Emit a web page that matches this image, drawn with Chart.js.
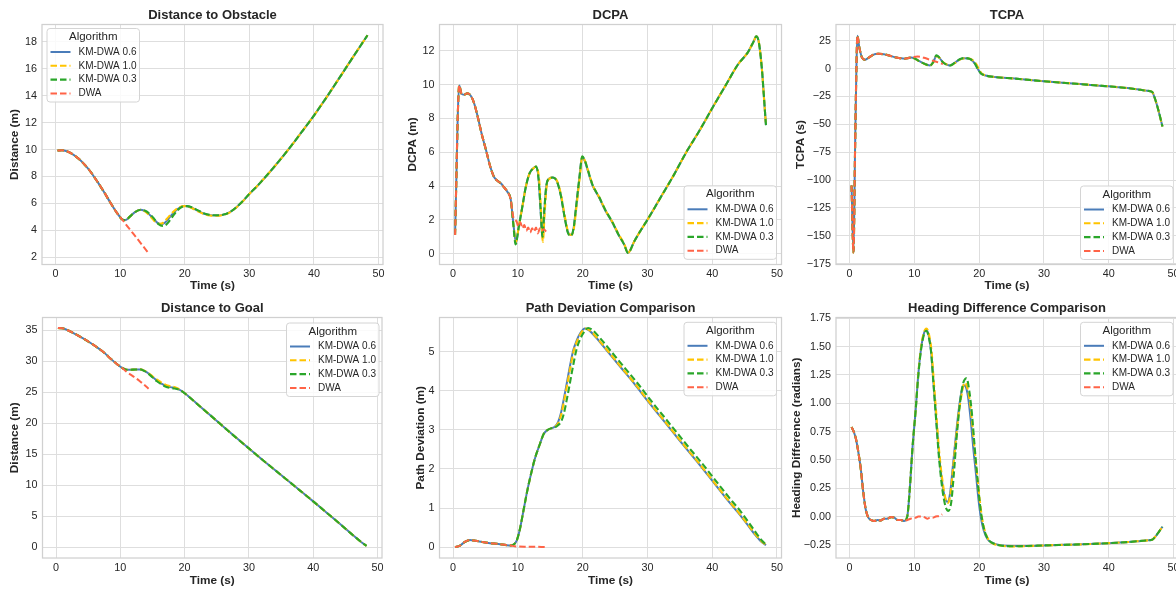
<!DOCTYPE html>
<html>
<head>
<meta charset="utf-8">
<script src="https://cdn.jsdelivr.net/npm/chart.js@4.4.1/dist/chart.umd.min.js"></script>
<style>
html,body{margin:0;padding:0;background:#ffffff;overflow:hidden;width:1176px;height:590px;position:relative;}
canvas{position:absolute;}
</style>
</head>
<body>
<canvas id="c1"></canvas><canvas id="c2"></canvas><canvas id="c3"></canvas>
<canvas id="c4"></canvas><canvas id="c5"></canvas><canvas id="c6"></canvas>
<script>
// ---------------- DATA ----------------
const seriesNames = ['KM-DWA 0.6', 'KM-DWA 1.0', 'KM-DWA 0.3', 'DWA'];
const timeTicks = [0, 10, 20, 30, 40, 50];

// Distance to Obstacle  [time s, distance m]
const obstacleShared = [[0.3,9.93],[1.0,9.95],[1.6,9.9],[2.5,9.7],[3.5,9.35],[4.5,8.88],[5.5,8.3],[6.5,7.6],[7.5,6.85],[8.5,6.05],[9.5,5.3],[10.3,4.82]];
const obstacleRise = [[31,7.18],[32,7.7],[33,8.24],[34,8.8],[35,9.38],[36,9.98],[37,10.6],[38,11.24],[39,11.88],[40,12.53],[42,13.92],[44,15.37],[46,16.84],[48.3,18.5]];
const obstacleKM06 = [[10.8,4.76],[11.5,5.02],[12.3,5.36],[13.2,5.53],[14.0,5.38],[15.0,4.95],[15.8,4.55],[16.3,4.46],[16.9,4.55],[17.7,4.98],[18.5,5.42],[19.3,5.7],[20.0,5.8],[20.9,5.72],[21.9,5.48],[22.9,5.25],[23.9,5.13],[24.9,5.1],[25.9,5.15],[27.0,5.35],[28.0,5.72],[29.0,6.17],[30.0,6.7]];
const obstacleKM10 = [[10.8,4.76],[11.5,5.02],[12.3,5.36],[13.2,5.53],[14.0,5.36],[14.9,4.92],[15.6,4.56],[16.1,4.48],[16.7,4.58],[17.5,5.0],[18.4,5.45],[19.2,5.72],[20.0,5.8],[20.9,5.7],[21.9,5.45],[22.9,5.22],[23.9,5.1],[24.9,5.08],[25.9,5.14],[27.0,5.34],[28.0,5.7],[29.0,6.16],[30.0,6.7]];
const obstacleKM03 = [[10.8,4.76],[11.5,5.02],[12.3,5.36],[13.2,5.53],[14.1,5.4],[15.1,4.95],[15.9,4.48],[16.6,4.32],[17.2,4.45],[18.0,4.95],[18.8,5.45],[19.6,5.75],[20.3,5.8],[21.1,5.72],[22.0,5.5],[23.0,5.26],[24.0,5.14],[25.0,5.12],[26.0,5.17],[27.0,5.36],[28.0,5.72],[29.0,6.18],[30.0,6.71]];
const obstacleDWA = [[11.0,4.37],[12.0,3.77],[13.0,3.16],[14.4,2.3]];
const obstacleTicks = [2, 4, 6, 8, 10, 12, 14, 16, 18];

// DCPA  [time s, DCPA m]
const dcpaShared = [[0.3,1.1],[0.95,9.95],[1.3,9.45],[1.7,9.4],[2.2,9.48],[2.7,9.35],[3.2,8.95],[3.8,8.1],[4.4,7.1],[5.1,6.1],[5.7,5.2],[6.3,4.55],[6.8,4.32],[7.4,4.15],[7.9,3.9],[8.4,3.65],[8.9,3.2]];
const dcpaRise = [[28.0,0.75],[29.0,1.4],[30.0,2.0],[32.0,3.3],[34.0,4.6],[36.0,6.0],[38.0,7.25],[40.0,8.6],[42.0,9.9],[44.0,11.2],[45.5,11.9],[46.4,12.55],[46.8,12.85],[47.2,12.5],[47.7,10.8],[48.0,9.2],[48.3,7.6]];
const dcpaKM06 = [[9.3,1.8],[9.7,0.65],[10.1,1.5],[10.7,2.8],[11.2,3.9],[11.8,4.75],[12.4,5.05],[12.8,5.15],[13.2,4.4],[13.5,2.6],[13.8,0.9],[14.1,2.6],[14.4,4.0],[14.9,4.45],[15.4,4.5],[16.0,4.3],[16.6,3.5],[17.2,2.2],[17.7,1.3],[18.2,1.1],[18.6,1.5],[19.0,2.8],[19.5,4.5],[19.9,5.7],[20.3,5.5],[20.8,4.9],[21.5,4.05],[22.5,3.35],[23.5,2.55],[24.5,1.9],[25.5,1.15],[26.4,0.55],[27.0,0.05]];
const dcpaKM10 = [[9.3,1.8],[9.7,0.7],[10.1,1.5],[10.7,2.8],[11.2,3.9],[11.8,4.75],[12.4,5.05],[12.85,5.15],[13.3,4.3],[13.6,2.4],[13.85,0.7],[14.15,2.5],[14.45,4.0],[14.95,4.45],[15.45,4.5],[16.05,4.3],[16.65,3.5],[17.25,2.2],[17.75,1.3],[18.25,1.1],[18.65,1.5],[19.05,2.8],[19.55,4.5],[19.95,5.72],[20.35,5.5],[20.85,4.9],[21.55,4.05],[22.55,3.35],[23.55,2.55],[24.55,1.9],[25.55,1.15],[26.45,0.55],[27.0,0.05]];
const dcpaKM03 = [[9.3,1.7],[9.65,0.55],[10.1,1.5],[10.7,2.8],[11.2,3.9],[11.8,4.75],[12.4,5.05],[12.8,5.15],[13.2,4.4],[13.5,2.7],[13.8,1.0],[14.1,2.7],[14.4,4.05],[14.9,4.45],[15.4,4.5],[16.0,4.3],[16.6,3.5],[17.2,2.2],[17.7,1.25],[18.2,1.05],[18.6,1.5],[19.0,2.8],[19.5,4.5],[19.95,5.75],[20.35,5.5],[20.85,4.9],[21.55,4.05],[22.55,3.35],[23.55,2.55],[24.55,1.9],[25.5,1.15],[26.4,0.55],[27.0,0.05]];
const dcpaDWA = [[9.1,2.6],[9.3,2.15],[9.5,2.05],[9.8,1.9],[10.1,1.6],[10.4,1.85],[10.7,1.5],[11.0,1.7],[11.3,1.35],[11.6,1.55],[11.9,1.25],[12.2,1.5],[12.5,1.3],[12.8,1.55],[13.1,1.2],[13.4,1.5],[13.7,1.35],[14.0,1.45],[14.35,1.3]];
const dcpaTicks = [0, 2, 4, 6, 8, 10, 12];

// TCPA  [time s, TCPA s]
const tcpaShared = [[0.3,-105],[0.6,-165],[0.85,-70],[1.05,0],[1.2,29.5],[1.5,19],[1.9,10],[2.35,7.8],[2.9,9.5],[3.6,12.2],[4.4,13.2],[5.3,12.8],[6.2,11.5],[7.0,10.2],[7.8,9.3],[8.5,8.8],[9.0,9.3],[9.5,10.0]];
const tcpaTail = [[22.4,-7.6],[25.5,-9.0],[30.0,-11.4],[35.0,-13.7],[40.0,-16.0],[44.0,-18.3],[46.0,-20.0],[46.7,-21.0],[47.2,-28.0],[47.7,-38.0],[48.3,-52.0]];
const tcpaKM06 = [[10.0,9.2],[10.6,7.2],[11.5,4.5],[12.4,2.8],[12.9,5.5],[13.4,11.5],[13.8,10.0],[14.4,5.7],[15.0,3.5],[15.5,2.8],[16.2,5.0],[17.0,8.2],[17.8,9.3],[18.5,8.6],[19.0,6.8],[19.4,3.8],[19.8,-0.5],[20.3,-4.6],[21.0,-6.3]];
const tcpaKM10 = [[10.0,9.2],[10.6,7.0],[11.5,4.3],[12.4,2.6],[12.9,5.3],[13.4,11.2],[13.8,10.0],[14.4,5.8],[15.0,3.6],[15.6,2.9],[16.3,5.0],[17.1,8.2],[17.9,9.3],[18.6,8.7],[19.15,6.9],[19.55,3.9],[19.95,-0.4],[20.4,-4.5],[21.0,-6.3]];
const tcpaKM03 = [[10.0,9.1],[10.6,7.1],[11.5,4.4],[12.4,2.7],[12.9,5.6],[13.4,11.8],[13.8,10.2],[14.4,5.6],[15.0,3.4],[15.5,2.7],[16.2,5.0],[17.0,8.3],[17.8,9.4],[18.5,8.7],[19.0,6.9],[19.4,3.9],[19.8,-0.4],[20.3,-4.5],[21.0,-6.3]];
const tcpaDWA = [[10.5,10.8],[11.5,9.6],[12.5,7.7],[13.5,5.8],[14.4,4.0]];
const tcpaTicks = [-175, -150, -125, -100, -75, -50, -25, 0, 25];

// Distance to Goal  [time s, distance m]
const goalShared = [[0.3,35.4],[1.0,35.35],[1.7,35.1],[2.5,34.7],[3.5,34.15],[4.5,33.55],[5.5,32.9],[6.5,32.2],[7.5,31.4],[8.5,30.45],[9.5,29.55],[10.3,28.95]];
const goalTail = [[22.0,23.1],[24.0,21.3],[26.0,19.5],[28.0,17.7],[30.0,15.95],[32.0,14.2],[34.0,12.5],[36.0,10.8],[38.0,9.1],[40.0,7.4],[42.0,5.65],[44.0,3.9],[46.0,2.1],[47.5,0.8],[48.3,0.2]];
const goalKM06 = [[11.0,28.66],[12.0,28.68],[13.1,28.72],[13.8,28.45],[14.4,28.05],[15.0,27.5],[15.7,26.9],[16.4,26.4],[17.0,26.1],[17.8,25.85],[18.5,25.72],[19.1,25.5],[19.6,25.2],[20.5,24.45]];
const goalKM10 = [[11.0,28.66],[12.0,28.68],[13.1,28.72],[13.8,28.47],[14.4,28.1],[15.0,27.6],[15.9,26.95],[16.5,26.5],[17.1,26.2],[17.8,26.0],[18.5,25.85],[19.1,25.55],[19.6,25.2],[20.5,24.45]];
const goalKM03 = [[11.0,28.66],[12.0,28.68],[13.1,28.72],[13.8,28.43],[14.4,28.0],[15.0,27.45],[15.7,26.8],[16.4,26.3],[17.0,25.95],[17.8,25.7],[18.5,25.62],[19.1,25.45],[19.6,25.18],[20.5,24.45]];
const goalDWA = [[11.0,28.3],[12.0,27.6],[13.0,26.85],[14.4,25.6]];
const goalTicks = [0, 5, 10, 15, 20, 25, 30, 35];

// Path Deviation  [time s, deviation m]
const pathShared = [[0.3,0.0],[1.0,0.03],[1.8,0.13],[2.6,0.18],[3.5,0.16],[4.5,0.13],[5.7,0.1],[7.0,0.08],[8.2,0.05],[8.9,0.04],[9.4,0.07],[9.85,0.18],[10.3,0.45],[10.86,0.93],[11.4,1.4],[11.9,1.78],[12.6,2.25],[13.4,2.64],[14.0,2.9],[14.5,2.99],[15.1,3.04]];
const pathKM06 = [[15.7,3.08],[16.2,3.2],[16.6,3.4],[17.1,3.8],[17.5,4.15],[18.0,4.6],[18.55,5.04],[19.1,5.3],[19.6,5.47],[20.35,5.6],[21.0,5.55],[22.0,5.38],[24.0,4.98],[26.0,4.58],[28.0,4.18],[30.0,3.75],[32.0,3.34],[34.0,2.93],[36.0,2.52],[38.0,2.12],[40.0,1.7],[42.0,1.28],[44.0,0.88],[45.5,0.56],[46.5,0.34],[47.5,0.15],[48.3,0.05]];
const pathKM10 = [[15.7,3.07],[16.3,3.2],[16.7,3.4],[17.2,3.8],[17.6,4.15],[18.1,4.6],[18.65,5.04],[19.2,5.3],[19.7,5.47],[20.45,5.6],[21.1,5.55],[22.1,5.38],[24.1,4.98],[26.1,4.58],[28.1,4.18],[30.1,3.75],[32.1,3.34],[34.1,2.93],[36.1,2.52],[38.1,2.12],[40.1,1.7],[42.1,1.28],[44.1,0.88],[45.6,0.56],[46.6,0.34],[47.6,0.15],[48.3,0.06]];
const pathKM03 = [[15.7,3.06],[16.2,3.12],[16.7,3.22],[17.1,3.42],[17.6,3.82],[18.0,4.17],[18.5,4.62],[19.05,5.06],[19.6,5.32],[20.1,5.48],[20.85,5.61],[21.5,5.56],[22.5,5.39],[24.5,4.99],[26.5,4.59],[28.5,4.19],[30.5,3.76],[32.5,3.35],[34.5,2.94],[36.5,2.53],[38.5,2.13],[40.5,1.71],[42.5,1.29],[44.5,0.89],[45.9,0.57],[46.8,0.36],[47.7,0.16],[48.3,0.07]];
const pathEarly = [[0.3,0.0],[1.0,0.03],[1.8,0.13],[2.6,0.18],[3.5,0.16],[4.5,0.13],[5.7,0.1],[7.0,0.08],[8.2,0.05],[8.9,0.04]];
const pathDWA = [[9.5,0.02],[11.0,0.01],[12.5,0.01],[14.2,0.0]];
const pathTicks = [0, 1, 2, 3, 4, 5];

// Heading Difference  [time s, radians]
const headingShared = [[0.3,0.79],[0.7,0.74],[1.0,0.68],[1.4,0.55],[1.75,0.41],[2.1,0.22],[2.5,0.06],[2.9,-0.01],[3.3,-0.03],[3.8,-0.04],[4.3,-0.03],[4.8,-0.035],[5.3,-0.02],[5.8,-0.02],[6.4,-0.005],[6.9,-0.01],[7.4,-0.03],[7.9,-0.03],[8.4,-0.04]];
const headingTail = [[30.0,-0.255],[33.0,-0.25],[36.0,-0.245],[40.0,-0.235],[43.0,-0.225],[45.0,-0.215],[46.0,-0.21],[46.7,-0.205],[47.3,-0.17],[47.8,-0.13],[48.3,-0.09]];
const headingKM06 = [[8.9,0.0],[9.3,0.25],[9.7,0.6],[10.2,0.94],[10.6,1.25],[11.0,1.47],[11.4,1.6],[11.8,1.65],[12.2,1.6],[12.6,1.45],[12.9,1.22],[13.3,0.92],[13.8,0.55],[14.3,0.3],[14.7,0.17],[15.1,0.13],[15.5,0.2],[15.9,0.42],[16.35,0.68],[16.8,0.92],[17.2,1.08],[17.6,1.16],[17.9,1.15],[18.3,1.05],[18.7,0.85],[19.1,0.6],[19.5,0.38],[19.9,0.15],[20.3,-0.02],[20.7,-0.12],[21.3,-0.2],[22.0,-0.23],[23.0,-0.25],[25.0,-0.26],[27.0,-0.26]];
const headingKM10 = [[8.9,0.0],[9.3,0.25],[9.7,0.6],[10.2,0.94],[10.6,1.26],[11.0,1.48],[11.4,1.61],[11.85,1.66],[12.25,1.61],[12.65,1.46],[12.95,1.23],[13.35,0.93],[13.85,0.56],[14.35,0.31],[14.75,0.17],[15.15,0.12],[15.55,0.19],[15.95,0.41],[16.4,0.67],[16.85,0.91],[17.3,1.08],[17.75,1.18],[18.05,1.16],[18.5,1.04],[18.9,0.84],[19.3,0.59],[19.7,0.37],[20.1,0.14],[20.5,-0.03],[20.9,-0.13],[21.5,-0.21],[22.2,-0.24],[23.2,-0.255],[25.2,-0.265],[27.2,-0.262]];
const headingKM03 = [[8.9,0.0],[9.3,0.25],[9.7,0.6],[10.2,0.94],[10.6,1.24],[11.0,1.46],[11.4,1.59],[11.8,1.64],[12.2,1.59],[12.6,1.44],[12.9,1.21],[13.3,0.9],[13.8,0.52],[14.3,0.25],[14.8,0.09],[15.25,0.05],[15.7,0.13],[16.1,0.38],[16.5,0.68],[17.0,0.98],[17.5,1.17],[18.05,1.22],[18.5,1.1],[18.9,0.9],[19.3,0.62],[19.7,0.36],[20.1,0.12],[20.5,-0.04],[20.9,-0.14],[21.5,-0.21],[22.3,-0.24],[23.3,-0.255],[25.3,-0.262],[27.3,-0.26]];
const headingDWA = [[8.9,-0.03],[9.4,-0.02],[9.9,-0.01],[10.2,-0.01],[10.6,0.0],[11.2,0.0],[11.7,-0.01],[12.0,-0.02],[12.4,-0.01],[12.8,-0.01],[13.3,0.0],[13.8,0.005],[14.3,0.02]];
const headingTicks = [-0.25, 0, 0.25, 0.5, 0.75, 1.0, 1.25, 1.5, 1.75];

// ---------------- STYLE ----------------
const FONT = "'Liberation Sans', Arial, Helvetica, sans-serif";
const TEXT = '#262626';
const GRID = '#dedede';
const SPINE = '#d0d0d0';
const seriesColors = ['#4a7cb9', '#ffc400', '#2aa62a', '#ff6347'];
const seriesDash = [[], [6.5, 3], [6.5, 3], [6.5, 3]];
const seriesWidth = [2.0, 2.1, 2.1, 2.0];
const seriesOrder = [4, 3, 2, 1];

const fmtNum = (v, d) => {
  const s = Math.abs(v).toFixed(d);
  return (v < 0 ? '\u2212' : '') + s;
};

const panelTitle = {
  id: 'panelTitle',
  afterDraw(chart, args, opts) {
    const ca = chart.chartArea, ctx = chart.ctx;
    ctx.save();
    ctx.font = 'bold 13px ' + FONT;
    ctx.fillStyle = TEXT;
    ctx.textAlign = 'center';
    ctx.textBaseline = 'middle';
    ctx.fillText(opts.text, (ca.left + ca.right) / 2, ca.top - 9.5);
    ctx.restore();
  }
};

function roundRect(ctx, x, y, w, h, r) {
  ctx.beginPath();
  ctx.moveTo(x + r, y);
  ctx.lineTo(x + w - r, y); ctx.arcTo(x + w, y, x + w, y + r, r);
  ctx.lineTo(x + w, y + h - r); ctx.arcTo(x + w, y + h, x + w - r, y + h, r);
  ctx.lineTo(x + r, y + h); ctx.arcTo(x, y + h, x, y + h - r, r);
  ctx.lineTo(x, y + r); ctx.arcTo(x, y, x + r, y, r);
  ctx.closePath();
}

const frameAndLegend = {
  id: 'frameAndLegend',
  afterDatasetsDraw(chart, args, opts) {
    const ctx = chart.ctx, ca = chart.chartArea;
    ctx.save();
    ctx.strokeStyle = SPINE;
    ctx.lineWidth = 1.25;
    ctx.strokeRect(ca.left, ca.top, ca.right - ca.left, ca.bottom - ca.top);
    const x = opts.x, y = opts.y, w = 92.5, h = 73.5;
    roundRect(ctx, x, y, w, h, 3);
    ctx.fillStyle = 'rgba(255,255,255,0.85)';
    ctx.fill();
    ctx.strokeStyle = '#d4d4d4';
    ctx.lineWidth = 1;
    ctx.stroke();
    ctx.fillStyle = TEXT;
    ctx.textBaseline = 'middle';
    ctx.textAlign = 'center';
    ctx.font = '11.5px ' + FONT;
    ctx.fillText('Algorithm', x + w / 2, y + 8.5);
    ctx.textAlign = 'left';
    ctx.font = '10px ' + FONT;
    chart.data.datasets.forEach((ds, i) => {
      const yy = y + 23.5 + i * 13.8;
      ctx.beginPath();
      ctx.setLineDash(ds.borderDash || []);
      ctx.strokeStyle = ds.borderColor;
      ctx.lineWidth = ds.borderWidth;
      ctx.moveTo(x + 3.5, yy);
      ctx.lineTo(x + 23.5, yy);
      ctx.stroke();
      ctx.setLineDash([]);
      ctx.fillStyle = TEXT;
      ctx.fillText(ds.label, x + 31.5, yy);
    });
    ctx.restore();
  }
};

function buildChart(id, p) {
  const canvas = document.getElementById(id);
  canvas.width = p.box.w; canvas.height = p.box.h;
  canvas.style.left = p.box.x + 'px'; canvas.style.top = p.box.y + 'px';
  canvas.style.width = p.box.w + 'px'; canvas.style.height = p.box.h + 'px';
  const a = p.area;
  const datasets = p.series.map((pts, i) => ({
    label: seriesNames[i],
    data: pts.map(([x, y]) => ({x, y})),
    borderColor: seriesColors[i],
    backgroundColor: seriesColors[i],
    borderWidth: seriesWidth[i],
    borderDash: seriesDash[i],
    pointRadius: 0,
    fill: false,
    cubicInterpolationMode: 'monotone',
    order: seriesOrder[i]
  }));
  const lh = 11.5 * 1.2;
  return new Chart(canvas, {
    type: 'line',
    data: {datasets},
    options: {
      responsive: false,
      animation: false,
      devicePixelRatio: 1,
      events: [],
      layout: {padding: {left: 0, top: a.t - p.box.y, right: p.box.x + p.box.w - a.r, bottom: 0}},
      plugins: {
        legend: {display: false},
        tooltip: {enabled: false},
        panelTitle: {text: p.title},
        frameAndLegend: {x: p.legend.x - p.box.x, y: p.legend.y - p.box.y}
      },
      scales: {
        x: {
          type: 'linear', min: -2.1, max: 50.7,
          afterBuildTicks: s => { s.ticks = timeTicks.map(v => ({value: v})); },
          afterFit: s => { s.height = p.box.y + p.box.h - a.b; },
          grid: {color: GRID, lineWidth: 1, drawTicks: false},
          border: {display: false},
          ticks: {autoSkip: false, maxRotation: 0, padding: 3.2, color: TEXT,
                  font: {family: FONT, size: 10.8}, callback: v => fmtNum(v, 0)},
          title: {display: true, text: 'Time (s)', color: TEXT,
                  font: {family: FONT, size: 11.8, weight: 'bold'}, padding: {top: 0, bottom: 2.6}}
        },
        y: {
          type: 'linear', min: p.yMin, max: p.yMax,
          afterBuildTicks: s => { s.ticks = p.yTicks.map(v => ({value: v})); },
          afterFit: s => { s.width = a.l - p.box.x; },
          grid: {color: GRID, lineWidth: 1, drawTicks: false},
          border: {display: false},
          ticks: {autoSkip: false, padding: 5, color: TEXT,
                  font: {family: FONT, size: 10.8}, callback: v => fmtNum(v, p.dec)},
          title: {display: true, text: p.ylabel, color: TEXT,
                  font: {family: FONT, size: 11.8, weight: 'bold'},
                  padding: {top: p.ylabelX - p.box.x - lh / 2, bottom: 0}}
        }
      }
    },
    plugins: [panelTitle, frameAndLegend]
  });
}

buildChart('c1', {
  box: {x: 0, y: 0, w: 392, h: 295}, area: {l: 42, t: 24.5, r: 383, b: 264.5},
  title: 'Distance to Obstacle', ylabel: 'Distance (m)', ylabelX: 15,
  yMin: 1.46, yMax: 19.3, yTicks: obstacleTicks, dec: 0,
  legend: {x: 47, y: 28.5},
  series: [
    [...obstacleShared, ...obstacleKM06, ...obstacleRise],
    [...obstacleShared, ...obstacleKM10, ...obstacleRise],
    [...obstacleShared, ...obstacleKM03, ...obstacleRise],
    [...obstacleShared, ...obstacleDWA]
  ]
});
buildChart('c2', {
  box: {x: 392, y: 0, w: 398, h: 295}, area: {l: 439.5, t: 24.5, r: 781.5, b: 264.5},
  title: 'DCPA', ylabel: 'DCPA (m)', ylabelX: 412.7,
  yMin: -0.64, yMax: 13.55, yTicks: dcpaTicks, dec: 0,
  legend: {x: 684, y: 185.8},
  series: [
    [...dcpaShared, ...dcpaKM06, ...dcpaRise],
    [...dcpaShared, ...dcpaKM10, ...dcpaRise],
    [...dcpaShared, ...dcpaKM03, ...dcpaRise],
    [...dcpaShared, ...dcpaDWA]
  ]
});
buildChart('c3', {
  box: {x: 784, y: 0, w: 406, h: 295}, area: {l: 836, t: 24.5, r: 1178, b: 264.5},
  title: 'TCPA', ylabel: 'TCPA (s)', ylabelX: 800.7,
  yMin: -175.8, yMax: 39.5, yTicks: tcpaTicks, dec: 0,
  legend: {x: 1080.5, y: 186},
  series: [
    [...tcpaShared, ...tcpaKM06, ...tcpaTail],
    [...tcpaShared, ...tcpaKM10, ...tcpaTail],
    [...tcpaShared, ...tcpaKM03, ...tcpaTail],
    [...tcpaShared, ...tcpaDWA]
  ]
});
buildChart('c4', {
  box: {x: 0, y: 295, w: 392, h: 295}, area: {l: 42.5, t: 317.5, r: 382, b: 558},
  title: 'Distance to Goal', ylabel: 'Distance (m)', ylabelX: 15,
  yMin: -1.75, yMax: 37.1, yTicks: goalTicks, dec: 0,
  legend: {x: 286.5, y: 323},
  series: [
    [...goalShared, ...goalKM06, ...goalTail],
    [...goalShared, ...goalKM10, ...goalTail],
    [...goalShared, ...goalKM03, ...goalTail],
    [...goalShared, ...goalDWA]
  ]
});
buildChart('c5', {
  box: {x: 392, y: 295, w: 398, h: 295}, area: {l: 439.5, t: 317.5, r: 781.5, b: 558},
  title: 'Path Deviation Comparison', ylabel: 'Path Deviation (m)', ylabelX: 420.3,
  yMin: -0.28, yMax: 5.88, yTicks: pathTicks, dec: 0,
  legend: {x: 684, y: 322.3},
  series: [
    [...pathShared, ...pathKM06],
    [...pathShared, ...pathKM10],
    [...pathShared, ...pathKM03],
    [...pathEarly, ...pathDWA]
  ]
});
buildChart('c6', {
  box: {x: 784, y: 295, w: 406, h: 295}, area: {l: 836, t: 317.5, r: 1178, b: 558},
  title: 'Heading Difference Comparison', ylabel: 'Heading Difference (radians)', ylabelX: 796.7,
  yMin: -0.366, yMax: 1.757, yTicks: headingTicks, dec: 2,
  legend: {x: 1080.5, y: 322.3},
  series: [
    [...headingShared, ...headingKM06, ...headingTail],
    [...headingShared, ...headingKM10, ...headingTail],
    [...headingShared, ...headingKM03, ...headingTail],
    [...headingShared, ...headingDWA]
  ]
});
</script>
</body>
</html>
